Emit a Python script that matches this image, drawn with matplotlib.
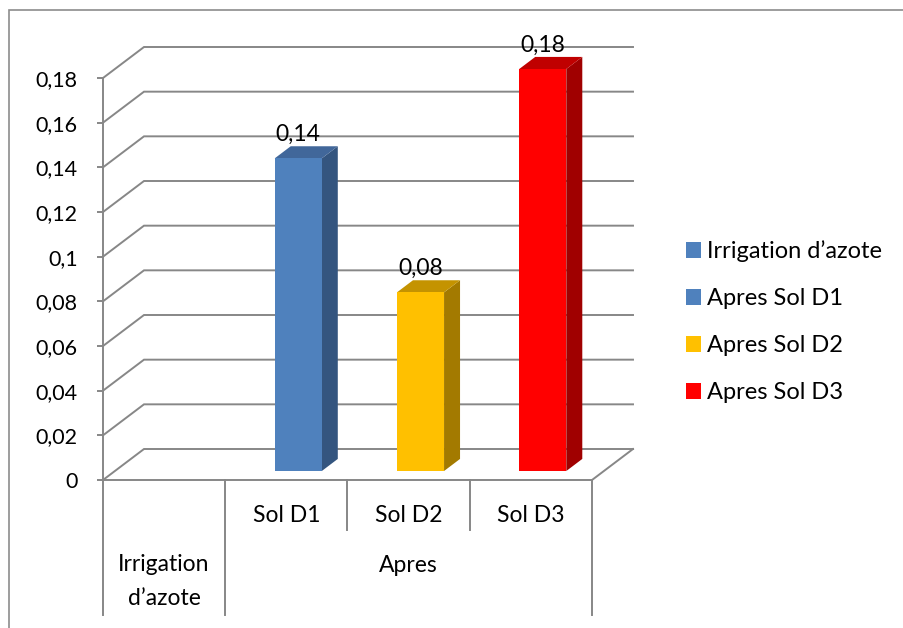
import numpy as np
import matplotlib
matplotlib.use("Agg")
import matplotlib.pyplot as plt
from matplotlib.patches import Polygon, Patch, Rectangle
from matplotlib.transforms import blended_transform_factory

plt.rcParams["font.family"] = ["Lato", "DejaVu Sans"]

# ── Data ─────────────────────────────────────────────────────────────
categories   = ["", "Sol D1", "Sol D2", "Sol D3"]
group_names  = ["Irrigation\nd’azote", "Apres"]
group_spans  = [(0, 0), (1, 3)]
series       = ["Irrigation d’azote", "Apres Sol D1", "Apres Sol D2", "Apres Sol D3"]
values       = [np.nan, 0.14, 0.08, 0.18]
yticks       = [0, 0.02, 0.04, 0.06, 0.08, 0.10, 0.12, 0.14, 0.16, 0.18]
ytick_labels = ["0", "0,02", "0,04", "0,06", "0,08", "0,1", "0,12", "0,14", "0,16", "0,18"]

front_colors = ["#4F81BD", "#4F81BD", "#FFC000", "#FF0000"]
top_colors   = ["#41679A", "#41679A", "#C49300", "#C00000"]
side_colors  = ["#34557F", "#34557F", "#A37A00", "#A00000"]

GRID = "#878787"
FS = 16.5      # labels
FS_LEG = 17
FS_TICK = 15.5

fig = plt.figure(figsize=(9.04, 6.28), dpi=100)
ax = fig.add_axes([103 / 904, 148 / 628, 489 / 904, 402 / 628])
ax.set_xlim(-0.5, 3.5)
ax.set_ylim(0, 0.18)
ax.patch.set_visible(False)
for s in ["top", "right", "bottom"]:
    ax.spines[s].set_visible(False)
ax.spines["left"].set_color(GRID)
ax.spines["left"].set_linewidth(1.4)
ax.set_xticks([])
ax.set_yticks(yticks, ytick_labels)
ax.tick_params(axis="y", length=4.3, width=1.4, color=GRID, pad=14, labelsize=FS_TICK)

# depth vector of the 3-D box (41 px right, 31 px up) in data units
origin = ax.transData.transform((-0.5, 0))
ddx, ddy = ax.transData.inverted().transform(origin + np.array([41, 31])) - np.array([-0.5, 0])

# side wall + back wall gridlines
for t in yticks:
    ax.plot([-0.5, -0.5 + ddx, 3.5 + ddx], [t, t + ddy, t + ddy], color=GRID, lw=1.4,
            clip_on=False, zorder=1, solid_joinstyle="miter")
# floor outline
ax.plot([-0.5, 3.5, 3.5 + ddx], [0, 0, ddy], color=GRID, lw=1.4,
        clip_on=False, zorder=1, solid_joinstyle="miter")

# bars: front face from ax.bar, side/top faces as polygons
w, f1, f2 = 0.385, 0.29, 0.68
g = f2 - f1
for i, v in enumerate(values):
    if np.isnan(v):
        continue
    xc = i + f1 * ddx
    y0 = f1 * ddy
    ax.bar(xc, v, width=w, bottom=y0, color=front_colors[i], zorder=4, clip_on=False)
    x0, x1, y1 = xc - w / 2, xc + w / 2, y0 + v
    side = [(x1, y0), (x1, y1), (x1 + g * ddx, y1 + g * ddy), (x1 + g * ddx, y0 + g * ddy)]
    top = [(x0, y1), (x1, y1), (x1 + g * ddx, y1 + g * ddy), (x0 + g * ddx, y1 + g * ddy)]
    ax.add_patch(Polygon(side, closed=True, fc=side_colors[i], ec="none", zorder=3, clip_on=False))
    ax.add_patch(Polygon(top, closed=True, fc=top_colors[i], ec="none", zorder=3, clip_on=False))
    ax.annotate(f"{v:g}".replace(".", ","), (xc, y1), xytext=(0, 12.5), textcoords="offset points",
                ha="center", va="baseline", fontsize=FS, zorder=5, annotation_clip=False)

# two-level category axis
tr = blended_transform_factory(ax.transData, fig.transFigure)
long_edges = {-0.5, 3.5} | {s - 0.5 for s, _ in group_spans}
for b in np.arange(-0.5, len(categories), 1.0):
    bottom = 13 / 628 if b in long_edges else 98 / 628
    ax.plot([b, b], [148 / 628, bottom], color=GRID, lw=1.4, transform=tr, clip_on=False)
for i, c in enumerate(categories):
    ax.text(i, 113 / 628, c, transform=tr, ha="center", va="center", fontsize=FS)
for name, (a, b) in zip(group_names, group_spans):
    ypos = 63 / 628 if b > a else 46.5 / 628
    ax.text((a + b) / 2, ypos, name, transform=tr, ha="center", va="center",
            fontsize=FS, linespacing=1.75)

# legend
handles = [Patch(fc=c, ec="none") for c in front_colors]
fig.legend(handles, series, loc="center left", bbox_to_anchor=(686 / 904, (628 - 322) / 628),
           frameon=False, fontsize=FS_LEG, handlelength=0.63, handleheight=0.63,
           handletextpad=0.26, labelspacing=1.1, borderpad=0, borderaxespad=0)

# chart border
fig.patches.append(Rectangle((9 / 904, -0.1), 1.2, 618 / 628 + 0.1, transform=fig.transFigure,
                             fill=False, ec="#8C8C8C", lw=1.2))

fig.savefig("out.png", dpi=100)
